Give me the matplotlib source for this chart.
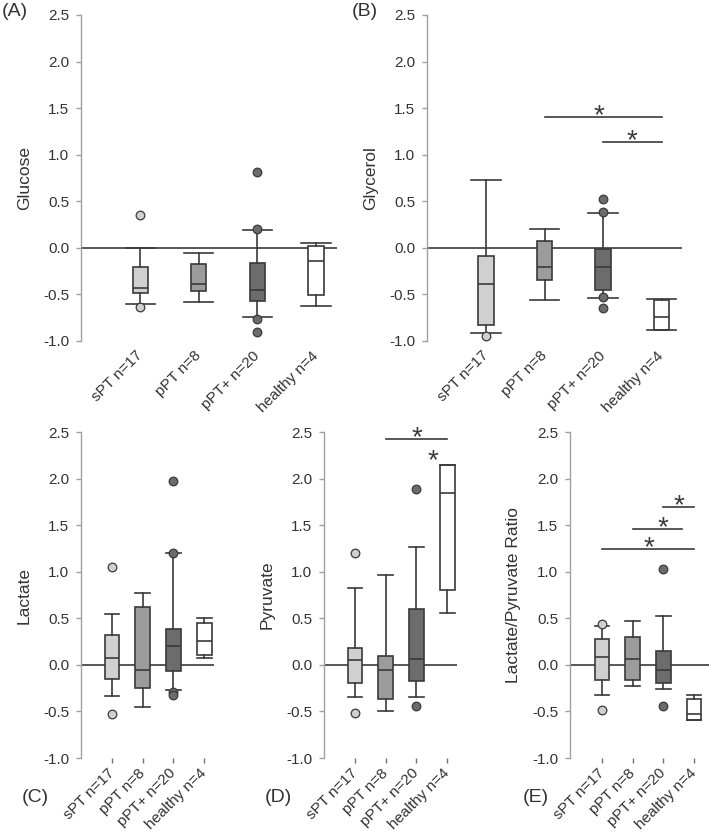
import matplotlib
matplotlib.use("Agg")
import matplotlib.pyplot as plt

plt.rcParams['font.family'] = ['Liberation Sans', 'DejaVu Sans']

# ---------------- data ----------------
groups = ["sPT n=17", "pPT n=8", "pPT+ n=20", "healthy n=4"]
group_colors = ["#d0d0d0", "#9c9c9c", "#6c6c6c", "#ffffff"]
yticks = [-1.0, -0.5, 0.0, 0.5, 1.0, 1.5, 2.0, 2.5]

# Glucose (A)
glucose_lo = [-0.60, -0.58, -0.74, -0.62]
glucose_q1 = [-0.49, -0.46, -0.57, -0.51]
glucose_med = [-0.43, -0.39, -0.45, -0.14]
glucose_q3 = [-0.21, -0.17, -0.16, 0.02]
glucose_hi = [0.00, -0.05, 0.19, 0.05]
glucose_fliers = [[0.35, -0.64], [], [0.81, 0.20, -0.76, -0.90], []]

# Glycerol (B)
glycerol_lo = [-0.91, -0.56, -0.54, -0.88]
glycerol_q1 = [-0.83, -0.34, -0.45, -0.88]
glycerol_med = [-0.39, -0.21, -0.21, -0.74]
glycerol_q3 = [-0.09, 0.07, -0.01, -0.56]
glycerol_hi = [0.73, 0.20, 0.375, -0.55]
glycerol_fliers = [[-0.95], [], [0.52, 0.39, -0.53, -0.65], []]
glycerol_sig_x0 = [1, 2]
glycerol_sig_x1 = [3, 3]
glycerol_sig_y = [1.41, 1.14]
glycerol_star_x = [1.93, 2.5]

# Lactate (C)
lactate_lo = [-0.33, -0.45, -0.27, 0.07]
lactate_q1 = [-0.15, -0.25, -0.07, 0.11]
lactate_med = [0.07, -0.05, 0.20, 0.26]
lactate_q3 = [0.32, 0.62, 0.39, 0.45]
lactate_hi = [0.55, 0.77, 1.20, 0.50]
lactate_fliers = [[1.05, -0.53], [], [1.97, 1.20, -0.29, -0.32], []]

# Pyruvate (D)
pyruvate_lo = [-0.34, -0.50, -0.35, 0.555]
pyruvate_q1 = [-0.20, -0.365, -0.17, 0.80]
pyruvate_med = [0.05, -0.06, 0.06, 1.84]
pyruvate_q3 = [0.18, 0.09, 0.605, 2.15]
pyruvate_hi = [0.82, 0.97, 1.26, 2.15]
pyruvate_fliers = [[1.20, -0.515], [], [1.89, -0.44], []]
pyruvate_sig_x0 = [1]
pyruvate_sig_x1 = [3]
pyruvate_sig_y = [2.43]
pyruvate_star_x = [2.01]
pyruvate_lone_star_x = [2.52]
pyruvate_lone_star_y = [2.29]

# Lactate/Pyruvate ratio (E)
ratio_lo = [-0.32, -0.23, -0.26, -0.59]
ratio_q1 = [-0.16, -0.165, -0.20, -0.59]
ratio_med = [0.08, 0.06, -0.06, -0.53]
ratio_q3 = [0.275, 0.30, 0.15, -0.37]
ratio_hi = [0.415, 0.47, 0.52, -0.32]
ratio_fliers = [[0.44, -0.49], [], [1.03, -0.44], []]
ratio_sig_x0 = [0, 1, 2]
ratio_sig_x1 = [3, 2.62, 3]
ratio_sig_y = [1.24, 1.46, 1.70]
ratio_star_x = [1.53, 2.0, 2.52]


def make_stats(lo, q1, med, q3, hi, fl):
    return [dict(whislo=a, q1=b, med=c, q3=d, whishi=e, fliers=f)
            for a, b, c, d, e, f in zip(lo, q1, med, q3, hi, fl)]


W, H = 709, 832
fig = plt.figure(figsize=(W / 100, H / 100), dpi=100)

EDGE = "#3a3a3a"
SPINE = "#a0a0a0"
TXT = "#333333"
STAR_SIZE = 20

panels = [
    dict(rect=(81, 15, 337, 341), xlim=(-1.01, 3.36), wide=True,
         ylabel="Glucose", label="(A)", lpos=(2, 12),
         stats=make_stats(glucose_lo, glucose_q1, glucose_med, glucose_q3, glucose_hi, glucose_fliers),
         sig=None),
    dict(rect=(427, 15, 682, 341), xlim=(-1.01, 3.35), wide=True,
         ylabel="Glycerol", label="(B)", lpos=(352, 12),
         stats=make_stats(glycerol_lo, glycerol_q1, glycerol_med, glycerol_q3, glycerol_hi, glycerol_fliers),
         sig=(glycerol_sig_x0, glycerol_sig_x1, glycerol_sig_y, glycerol_star_x)),
    dict(rect=(81, 432, 214, 758), xlim=(-1.01, 3.32), wide=False,
         ylabel="Lactate", label="(C)", lpos=(22, 797),
         stats=make_stats(lactate_lo, lactate_q1, lactate_med, lactate_q3, lactate_hi, lactate_fliers),
         sig=None),
    dict(rect=(324, 432, 457, 758), xlim=(-1.01, 3.32), wide=False,
         ylabel="Pyruvate", label="(D)", lpos=(265, 797),
         stats=make_stats(pyruvate_lo, pyruvate_q1, pyruvate_med, pyruvate_q3, pyruvate_hi, pyruvate_fliers),
         sig=(pyruvate_sig_x0, pyruvate_sig_x1, pyruvate_sig_y, pyruvate_star_x)),
    dict(rect=(570, 432, 709, 758), xlim=(-1.04, 3.49), wide=False,
         ylabel="Lactate/Pyruvate Ratio", label="(E)", lpos=(523, 797),
         stats=make_stats(ratio_lo, ratio_q1, ratio_med, ratio_q3, ratio_hi, ratio_fliers),
         sig=(ratio_sig_x0, ratio_sig_x1, ratio_sig_y, ratio_star_x)),
]

for p in panels:
    l, t, r, b = p["rect"]
    ax = fig.add_axes([l / W, 1 - b / H, (r - l) / W, (b - t) / H])
    positions = list(range(len(groups)))
    if p["wide"]:
        bw, cw = 0.26, 0.50
    else:
        bw, cw = 0.48, 0.48
    res = ax.bxp(p["stats"], positions=positions, widths=bw, capwidths=cw,
                 patch_artist=True, showfliers=True,
                 boxprops=dict(edgecolor=EDGE, linewidth=1.2),
                 whiskerprops=dict(color=EDGE, linewidth=1.2),
                 capprops=dict(color=EDGE, linewidth=1.2),
                 medianprops=dict(color=EDGE, linewidth=1.2),
                 flierprops=dict(marker='o', markersize=6.2, markeredgecolor=EDGE,
                                 markeredgewidth=0.9, linestyle='none'))
    for box, c in zip(res['boxes'], group_colors):
        box.set_facecolor(c)
    for fl, c in zip(res['fliers'], group_colors):
        fl.set_markerfacecolor(c)
        fl.set_zorder(4)
    ax.axhline(0.0, color=EDGE, linewidth=1.2, zorder=1.5)

    ax.set_ylim(-1.0, 2.5)
    ax.set_xlim(*p["xlim"])
    ax.set_yticks(yticks)
    ax.set_yticklabels([f"{v:.1f}" for v in yticks])
    ax.set_xticks(positions)
    ax.set_xticklabels(groups, rotation=45, ha='right', va='center',
                       rotation_mode='anchor')
    for s in ['top', 'right', 'bottom']:
        ax.spines[s].set_visible(False)
    ax.spines['left'].set_color(SPINE)
    ax.spines['left'].set_linewidth(1.0)
    ax.tick_params(axis='y', direction='out', length=3.5, width=1.0, color=SPINE,
                   labelsize=11, labelcolor=TXT, pad=5)
    if p["wide"]:
        ax.tick_params(axis='x', length=0, labelsize=11, labelcolor=TXT, pad=9)
    else:
        ax.tick_params(axis='x', direction='out', length=3.5, width=1.0, color="#707070",
                       labelsize=11, labelcolor=TXT, pad=6)
    ax.set_ylabel(p["ylabel"], fontsize=12.5, color=TXT, labelpad=8)
    ax.patch.set_visible(False)

    if p["sig"] is not None:
        x0s, x1s, ys, sxs = p["sig"]
        for x0, x1, y, sx in zip(x0s, x1s, ys, sxs):
            ax.plot([x0, x1], [y, y], color=EDGE, linewidth=1.2, clip_on=False)
            ax.annotate("*", xy=(sx, y), xytext=(0, -4.5), textcoords='offset points',
                        ha='center', va='baseline', fontsize=STAR_SIZE, color=EDGE,
                        annotation_clip=False)
    if p["ylabel"] == "Pyruvate":
        for sx, sy in zip(pyruvate_lone_star_x, pyruvate_lone_star_y):
            ax.annotate("*", xy=(sx, sy), xytext=(0, -12), textcoords='offset points',
                        ha='center', va='baseline', fontsize=STAR_SIZE, color=EDGE,
                        annotation_clip=False)

    lx, ly = p["lpos"]
    fig.text(lx / W, 1 - ly / H, p["label"], fontsize=14, color=TXT,
             ha='left', va='center')

fig.savefig("out.png", dpi=100, facecolor='white')
